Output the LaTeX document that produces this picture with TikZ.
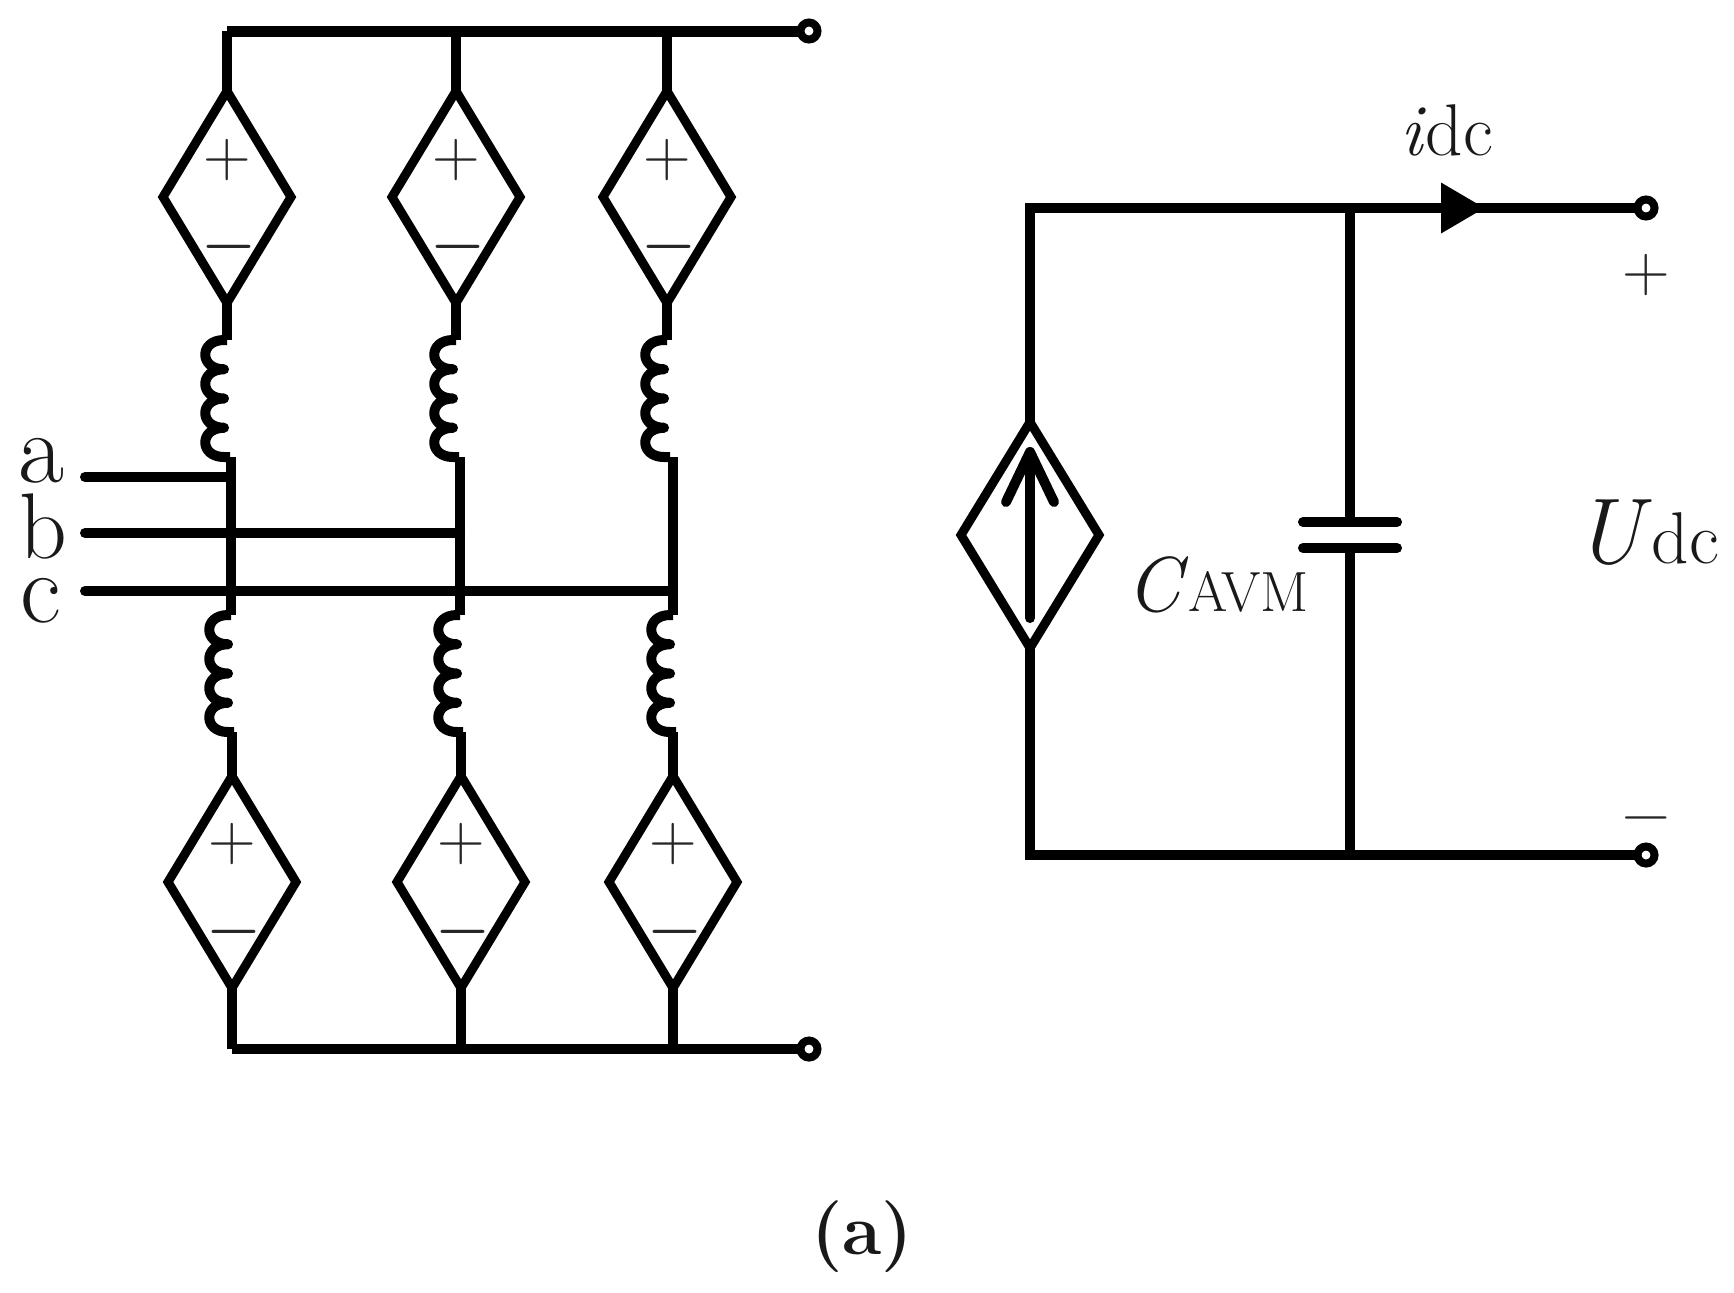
\documentclass[tikz,border=0pt]{standalone}
\usepackage{fontspec}
\usetikzlibrary{shapes.geometric,arrows.meta}

\tikzset{
    wire/.style={line width=3pt},
    ctrl/.style={diamond,draw,line width=2.7pt,inner sep=0pt,outer sep=0pt,minimum width=128*0.3pt,minimum height=212*0.3pt},
    sign/.style={inner sep=0pt,outer sep=0pt,font=\fontsize{19.8}{22}\selectfont,text=black!85},
    nega/.style={sign,font=\fontsize{17.5}{20}\selectfont\bfseries},
    term/.style={circle,draw,fill=white,line width=2.4pt,inner sep=0pt,outer sep=0pt,minimum size=17*0.3pt},
    lbl/.style={inner sep=0pt,outer sep=0pt,text=black!90},
    coil/.pic={
        \draw[wire,line join=round] (0,0) -- (-3,0) foreach \k in {0,1,2,3} { .. controls (-28,29.25*\k) and (-28,29.25*\k+29.25) .. (-3,29.25*\k+29.25) } -- (3,117);
    }
}

\begin{document}
\begin{tikzpicture}[x=0.3pt,y=-0.3pt]
    \useasboundingbox (0,0) rectangle (1734,1292);
    \coordinate (railtop) at (227,31);
    \coordinate (railbot) at (232,1049);
    \node[term] (tptop) at (809,31) {};
    \node[term] (tpbot) at (809,1049) {};
    \foreach \i/\xu/\xm/\xd in {1/227/231/232,2/456/460/461,3/667/673/673}{
        \node[ctrl] (up\i) at (\xu,197) {}; % upper arm source
        \node[sign] (upp\i) at (\xu,160) {+};
        \node[nega] (upm\i) at (\xu+2,253) {−};
        \node[ctrl] (dn\i) at (\xd,882) {}; % lower arm source
        \node[sign] (dnp\i) at (\xd,844) {+};
        \node[nega] (dnm\i) at (\xd+2,938) {−};
        \coordinate (cu\i) at (\xu,340);
        \coordinate (mu\i) at (\xm,457);
        \coordinate (md\i) at (\xm,615);
        \coordinate (cd\i) at (\xd,732);
        \draw[wire] (up\i.north) -- (up\i.north |- railtop);
        \draw[wire] (dn\i.south) -- (dn\i.south |- railbot);
        \draw[wire] (up\i.south) -- (cu\i);
        \pic at (cu\i) {coil};
        \draw[wire] (mu\i) -- (md\i);
        \pic at (md\i) {coil};
        \draw[wire] (cd\i) -- (dn\i.north);
    }
    \draw[wire,line width=3.3pt] (railtop) -- (tptop.west);
    \draw[wire] (railbot) -- (tpbot.west);
    % ac side
    \coordinate (ina) at (85,477);
    \coordinate (inb) at (85,533);
    \coordinate (inc) at (85,591);
    \draw[wire,line cap=round] (ina) -- (mu1 |- ina);
    \draw[wire,line cap=round] (inb) -- (mu2 |- inb);
    \draw[wire,line cap=round] (inc) -- (mu3 |- inc);
    \node[lbl,anchor=base,font=\fontsize{30}{34}\selectfont] (la) at (41,482) {a};
    \node[lbl,anchor=base,font=\fontsize{28}{32}\selectfont] (lb) at (43,558) {b};
    \node[lbl,anchor=base,font=\fontsize{30}{34}\selectfont] (lc) at (41,622) {c};
    % dc side
    \node[ctrl,minimum width=138*0.3pt,minimum height=226*0.3pt] (src) at (1030,535) {};
    \node[term] (tpp) at (1646,208) {};
    \node[term] (tpm) at (1646,855) {};
    \coordinate (capt) at (1350,522);
    \coordinate (capb) at (1350,548);
    \coordinate (tip) at (1485,208);
    \coordinate (srctip) at (1030,452);
    \draw[wire] (src.south) -- (src.south |- tpm) -- (tpm.west);
    \draw[wire] (src.north) -- (src.north |- tip) -- (tpp.west);
    \draw[wire,-{Triangle[length=13.2pt,width=14.4pt]}] (capt |- tip) -- (tip);
    \draw[wire] (capt |- tip) -- (capt);
    \draw[wire] (capb) -- (capb |- tpm);
    \draw[wire,line cap=round] (capt) +(-47,0) -- +(47,0);
    \draw[wire,line cap=round] (capb) +(-47,0) -- +(47,0);
    \draw[wire,line cap=round] (srctip |- 0,618) -- (srctip); % arrow inside source
    \draw[wire,line cap=round,line join=round] (1006,502) -- (srctip) -- (1054,502);
    \node[lbl,anchor=base west,font=\fontsize{22}{24}\selectfont] (lidc) at (1400,155) {\textit{i}dc};
    \node[lbl,anchor=base west] (lcavm) at (1126,611) {\fontsize{23.4}{26}\selectfont\textit{C}\fontsize{17}{20}\selectfont AVM};
    \node[lbl,anchor=base west] (ludc) at (1574,563) {\fontsize{28}{30}\selectfont\textit{U}\fontsize{22}{24}\selectfont dc};
    \node[sign] (lplus) at (1646,275) {+};
    \node[sign] (lminus) at (1646,826) {−};
    \node[lbl,anchor=base,font=\fontsize{21.5}{24}\selectfont\bfseries] (lcap) at (862,1254) {(a)};
\end{tikzpicture}
\end{document}
